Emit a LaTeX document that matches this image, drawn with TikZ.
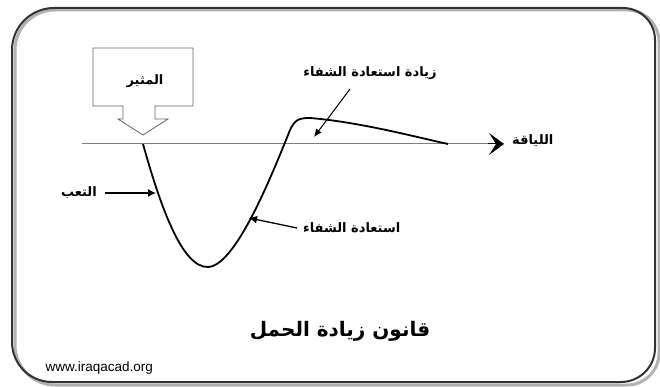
\documentclass[tikz,border=0pt]{standalone}
\usepackage{fontspec}
\usetikzlibrary{arrows.meta}
\setsansfont{Liberation Sans}
\newfontfamily\arabicfont[Script=Arabic]{DejaVu Sans}
\TeXXeTstate=1
\tikzset{
  lbl/.style={font=\arabicfont\bfseries\fontsize{13}{15}\selectfont, inner sep=1pt},
  ptr/.style={line width=1.3pt, -{Latex[length=8pt,width=8pt]}},
}
\begin{document}
\begin{tikzpicture}[x=1pt,y=-1pt]
\useasboundingbox (0,0) rectangle (660,387);
% frame
\draw[line width=3pt, gray!60] (15,385) [rounded corners=40] -- (15,10) [rounded corners=32] -- (659,10) -- (659,385) [rounded corners=40] -- cycle;
\draw[line width=2pt, black!80] (12,382) [rounded corners=42] -- (12,8) [rounded corners=32] -- (655,8) [rounded corners=34] -- (655,382) [rounded corners=40] -- cycle;
% stimulus box
\draw[gray!80!black, line width=0.8pt] (93,48) -- (193,48) -- (193,106) -- (155,106) -- (155,119) -- (168,119)
  -- (143,135) -- (118,119) -- (123,119) -- (123,106) -- (93,106) -- cycle;
\node[lbl] (stim) at (145,81) {\beginR المثير\endR};
% fitness line
\coordinate (lstart) at (82,144);
\coordinate (lend) at (504,144);
\draw[gray, line width=1pt] (lstart) -- (lend);
\draw[line width=1pt, -{Stealth[length=15pt,width=22pt,inset=7pt]}] (488,144) -- (lend);
\node[lbl, anchor=west] (fit) at (511,141) {\beginR اللياقة\endR};
% curve
\draw[line width=1.8pt] (143,144) .. controls (160,205) and (182,268) .. (208,267)
  .. controls (235,266) and (270,180) .. (290,130)
  .. controls (295,120) and (298,118) .. (310,118)
  .. controls (360,122) and (420,138) .. (448,144);
\coordinate (fatpt) at (156,195);
\coordinate (recpt) at (249,218);
\coordinate (suppt) at (314,137);
% labels
\node[lbl, anchor=east] (fat) at (98,193) {\beginR التعب\endR};
\draw[ptr] ([xshift=7pt]fat.east) -- (fat.east -| fatpt);
\node[lbl, anchor=west] (rec) at (302,228) {\beginR استعادة الشفاء\endR};
\draw[ptr] ([xshift=-5pt]rec.west) -- (recpt);
\node[lbl] (sup) at (370,73) {\beginR زيادة استعادة الشفاء\endR};
\draw[line width=1pt, -{Latex[length=8pt,width=7pt]}] (350,89) -- (suppt);
% title
\node[font=\arabicfont\bfseries\fontsize{20}{22}\selectfont] (title) at (340,331) {\beginR قانون زيادة الحمل\endR};
\node[font=\sffamily\fontsize{13.5}{15}\selectfont, anchor=west] (url) at (42,368) {www.iraqacad.org};
\end{tikzpicture}
\end{document}
